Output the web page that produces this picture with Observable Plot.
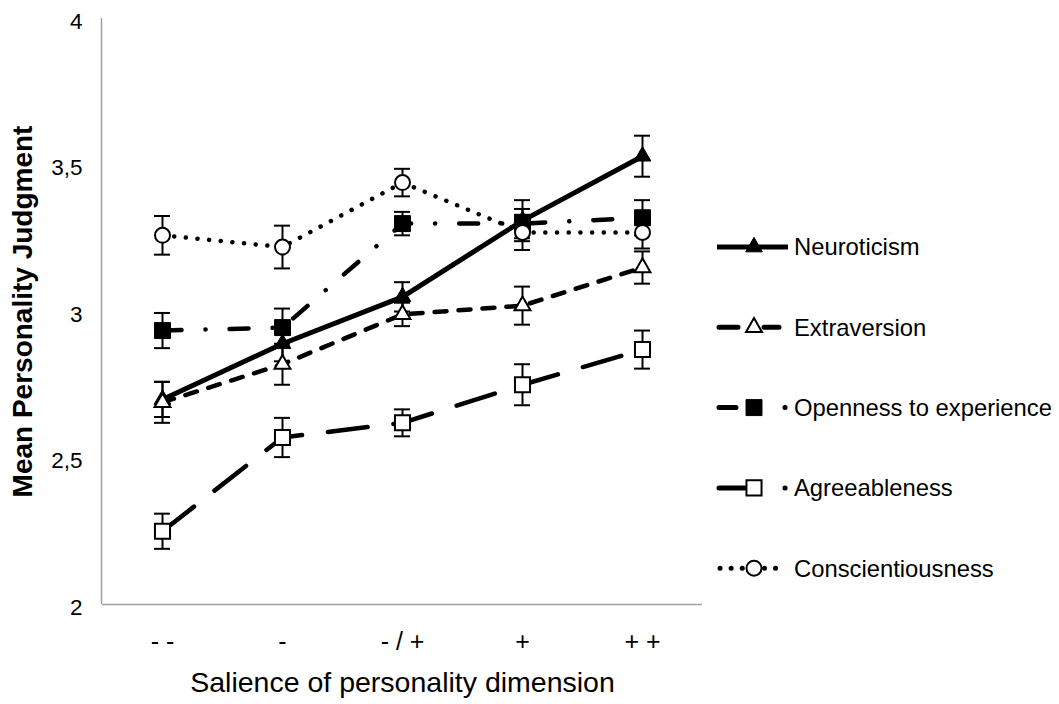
<!DOCTYPE html>
<html><head><meta charset="utf-8">
<script src="https://cdn.jsdelivr.net/npm/d3@7"></script>
<script src="https://cdn.jsdelivr.net/npm/@observablehq/plot@0.6"></script>
<style>
body{margin:0;background:#fff;}
#wrap{position:relative;width:1059px;height:704px;font-family:"Liberation Sans",Arial,sans-serif;}
#wrap svg{position:absolute;left:0;top:0;}
</style></head><body><div id="wrap"></div>
<script>
// ---- data ----
const categories = ["- -", "-", "- / +", "+", "+ +"];
const seriesNames = ["Neuroticism", "Extraversion", "Openness to experience", "Agreeableness", "Conscientiousness"];
const neuroticism = [2.70, 2.89, 3.05, 3.31, 3.53];
const neuroticismErr = [0.06, 0.06, 0.05, 0.07, 0.07];
const extraversion = [2.69, 2.82, 2.99, 3.02, 3.15];
const extraversionErr = [0.07, 0.07, 0.04, 0.065, 0.055];
const openness = [2.935, 2.945, 3.30, 3.30, 3.32];
const opennessErr = [0.06, 0.065, 0.04, 0.05, 0.06];
const agreeableness = [2.25, 2.57, 2.62, 2.75, 2.87];
const agreeablenessErr = [0.06, 0.067, 0.046, 0.07, 0.065];
const conscientiousness = [3.26, 3.22, 3.44, 3.27, 3.27];
const conscientiousnessErr = [0.066, 0.073, 0.047, 0.06, 0.055];
const yTicks = [2, 2.5, 3, 3.5, 4];
const xTitle = "Salience of personality dimension";
const yTitle = "Mean Personality Judgment";

// ---- styles ----
const FONT = "Liberation Sans, Arial, sans-serif";
const values = [neuroticism, extraversion, openness, agreeableness, conscientiousness];
const errors = [neuroticismErr, extraversionErr, opennessErr, agreeablenessErr, conscientiousnessErr];
const styles = [
  {dash: null, symbol: "triangle", fill: "black", r: 6.2, sw: 1, lw: 5},
  {dash: "12,12", symbol: "triangle", fill: "white", r: 5.9, sw: 2, lw: 4.5},
  {dash: "19,24,0.1,24", symbol: "square", fill: "black", r: 9.0, sw: 1, lw: 4.5},
  {dash: "40,26", symbol: "square", fill: "white", r: 8.5, sw: 2, lw: 4.5},
  {dash: "0.1,11.6", symbol: "circle", fill: "white", r: 7.5, sw: 2, lw: 4.5}
];
const legendDash = [null, "19,26,15,100", "17,49,0.1,100", "26,40,0.1,100", "0.1,11"];
const legendSpan = [[717, 788], [719, 779], [719, 786], [719, 786], [720, 777]];

const tables = values.map((vals, i) => vals.map((v, j) => ({
  series: seriesNames[i], cat: categories[j], v, lo: v - errors[i][j], hi: v + errors[i][j]
})));

const marks = [];
// axis lines
marks.push(Plot.ruleY([2], {stroke: "#a0a0a0", strokeWidth: 1.5}));
marks.push(Plot.ruleX([categories[0]], {dx: -61, stroke: "#a0a0a0", strokeWidth: 1.5}));
marks.push(Plot.axisY({ticks: yTicks, tickFormat: d => String(d).replace(".", ","), tickSize: 0, tickPadding: 20, fontSize: 22.5, dy: 3, label: null}));
marks.push(Plot.axisX({tickSize: 0, tickPadding: 28, fontSize: 25, label: null}));
marks.push(Plot.text([yTitle], {frameAnchor: "left", textAnchor: "middle", dx: -79, rotate: -90, fontSize: 28, fontWeight: "bold", fill: "black"}));
marks.push(Plot.text([xTitle], {frameAnchor: "bottom", textAnchor: "middle", dy: 87, fontSize: 28.5, fill: "black"}));
// lines
tables.forEach((t, i) => {
  const s = styles[i];
  marks.push(Plot.line(t, {x: "cat", y: "v", stroke: "black", strokeWidth: s.lw,
    strokeDasharray: s.dash || undefined, strokeLinecap: s.dash ? "round" : "butt", strokeLinejoin: "round"}));
});
// error bars + markers
tables.forEach((t, i) => {
  const s = styles[i];
  marks.push(Plot.ruleX(t, {x: "cat", y1: "lo", y2: "hi", stroke: "black", strokeWidth: 2}));
  marks.push(Plot.tickY(t, {x: "cat", y: "lo", stroke: "black", strokeWidth: 2}));
  marks.push(Plot.tickY(t, {x: "cat", y: "hi", stroke: "black", strokeWidth: 2}));
  marks.push(Plot.dot(t, {x: "cat", y: "v", symbol: s.symbol, r: s.r, fill: s.fill, stroke: "black", strokeWidth: s.sw}));
});

const chart = Plot.plot({
  width: 1059, height: 704,
  marginLeft: 102, marginRight: 357, marginTop: 18, marginBottom: 100,
  style: {fontFamily: FONT, background: "white", color: "black", overflow: "visible"},
  x: {type: "band", domain: categories, paddingInner: 0.8667, paddingOuter: 0.4333},
  y: {domain: [2, 4]},
  marks
});
document.getElementById("wrap").appendChild(chart);

// ---- legend (overlay) ----
const leg = d3.create("svg").attr("width", 1059).attr("height", 704).style("pointer-events", "none");
const symMap = {triangle: d3.symbolTriangle, square: d3.symbolSquare, circle: d3.symbolCircle};
seriesNames.forEach((name, i) => {
  const y = 247 + i * 80.3;
  const s = styles[i];
  const [x1, x2] = legendSpan[i];
  const ln = leg.append("line").attr("x1", x1).attr("x2", x2).attr("y1", y).attr("y2", y)
    .attr("stroke", "black").attr("stroke-width", 5)
    .attr("stroke-linecap", legendDash[i] ? "round" : "butt");
  if (legendDash[i]) ln.attr("stroke-dasharray", legendDash[i]);
  leg.append("path").attr("transform", `translate(754,${y})`)
    .attr("d", d3.symbol(symMap[s.symbol], s.r * s.r * Math.PI)())
    .attr("fill", s.fill).attr("stroke", "black").attr("stroke-width", s.sw);
  leg.append("text").attr("x", 794).attr("y", y).attr("dy", "0.35em")
    .attr("font-family", FONT).attr("font-size", 23.8).attr("fill", "black").text(name);
});
document.getElementById("wrap").appendChild(leg.node());
</script></body></html>
